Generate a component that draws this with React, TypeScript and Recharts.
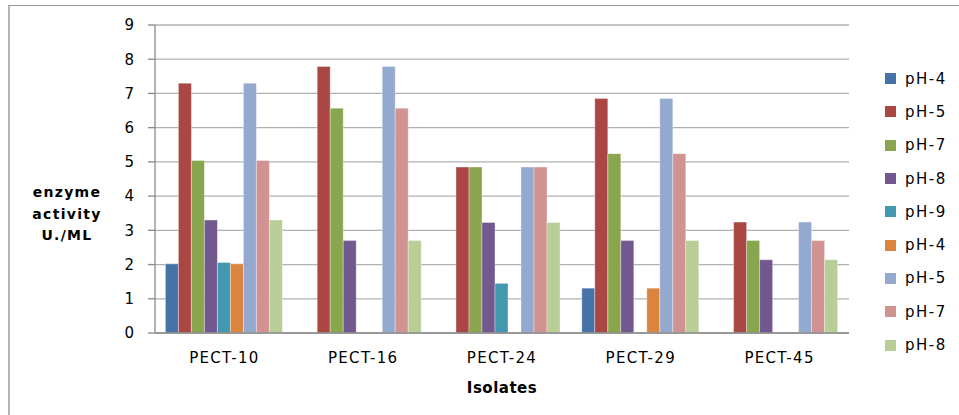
import React from 'react';
import { BarChart, Bar, XAxis, YAxis, CartesianGrid } from 'recharts';

const categories = ['PECT-10', 'PECT-16', 'PECT-24', 'PECT-29', 'PECT-45'];
const seriesNames = ['pH-4', 'pH-5', 'pH-7', 'pH-8', 'pH-9', 'pH-4', 'pH-5', 'pH-7', 'pH-8'];
const seriesColors = ['#4572A7', '#AA4643', '#89A54E', '#71588F', '#4198AF', '#DB843D', '#93A9CF', '#D19392', '#B9CD96'];

const s1_pH4 = [2.02, null, null, 1.31, null];
const s2_pH5 = [7.3, 7.79, 4.85, 6.85, 3.24];
const s3_pH7 = [5.04, 6.57, 4.85, 5.24, 2.7];
const s4_pH8 = [3.3, 2.7, 3.23, 2.7, 2.14];
const s5_pH9 = [2.06, null, 1.45, null, null];
const s6_pH4 = [2.02, null, null, 1.31, null];
const s7_pH5 = [7.3, 7.79, 4.85, 6.85, 3.24];
const s8_pH7 = [5.04, 6.57, 4.85, 5.24, 2.7];
const s9_pH8 = [3.3, 2.7, 3.23, 2.7, 2.14];

const seriesValues = [s1_pH4, s2_pH5, s3_pH7, s4_pH8, s5_pH9, s6_pH4, s7_pH5, s8_pH7, s9_pH8];
const yTicks = [0, 1, 2, 3, 4, 5, 6, 7, 8, 9];
const boundaryTicks = [0, 1, 2, 3, 4, 5];

const data = categories.map((c, i) => {
  const row: Record<string, any> = { name: c, idx: i + 0.5 };
  seriesValues.forEach((s, k) => {
    row['s' + k] = s[i];
  });
  return row;
});

const FONT = 'DejaVu Sans, Verdana, sans-serif';

const YLabel = () => (
  <text textAnchor="middle" fontFamily={FONT} fontWeight="bold" fontSize={14} fill="#000" letterSpacing={1.3}>
    <tspan x={67} y={197}>enzyme</tspan>
    <tspan x={67} y={219}>activity</tspan>
    <tspan x={67} y={240}>U./ML</tspan>
  </text>
);

const XLabel = () => (
  <text x={502} y={393} textAnchor="middle" fontFamily={FONT} fontWeight="bold" fontSize={15} fill="#000" letterSpacing={0.5}>
    Isolates
  </text>
);

export default function App() {
  return (
    <div style={{ position: 'absolute', left: 0, top: 0, width: 959, height: 415, background: '#fff' }}>
      <div style={{ position: 'absolute', left: 8, top: 5, width: 951, height: 410, borderTop: '1.5px solid #999', borderLeft: '2px solid #b5b5b5' }} />
      <BarChart
        width={959}
        height={415}
        data={data}
        margin={{ top: 25, right: 110, left: 0, bottom: 0 }}
        barCategoryGap="7.5%"
        barGap={0}
        style={{ position: 'absolute', left: 0, top: 0 }}
      >
        <CartesianGrid vertical={false} stroke="#b0b0b0" strokeWidth={1.3} />
        <XAxis
          xAxisId="b"
          type="number"
          dataKey="idx"
          domain={[0, 5]}
          ticks={boundaryTicks}
          allowDataOverflow
          height={0}
          axisLine={false}
          tick={false}
          tickSize={7}
          tickLine={{ stroke: '#7a7a7a', strokeWidth: 1.5 }}
        />
        <XAxis
          dataKey="name"
          height={82}
          axisLine={{ stroke: '#8a8a8a', strokeWidth: 1.3 }}
          tickLine={false}
          tickSize={0}
          tickMargin={19}
          tick={{ fontFamily: FONT, fontSize: 15, fill: '#000', letterSpacing: 1.3 }}
          interval={0}
          label={<XLabel />}
        />
        <YAxis
          width={155}
          domain={[0, 9]}
          ticks={yTicks}
          interval={0}
          axisLine={{ stroke: '#8a8a8a', strokeWidth: 1.3 }}
          tickLine={{ stroke: '#8a8a8a', strokeWidth: 1.3 }}
          tickSize={7}
          tickMargin={14}
          tick={{ fontFamily: FONT, fontSize: 15, fill: '#000' }}
          label={<YLabel />}
        />
        {seriesNames.map((n, k) => (
          <Bar
            key={k}
            dataKey={'s' + k}
            name={n}
            fill={seriesColors[k]}
            stroke="#ffffff"
            strokeOpacity={0.35}
            strokeWidth={1}
            isAnimationActive={false}
          />
        ))}
      </BarChart>
      <div style={{ position: 'absolute', left: 885, top: 62, fontFamily: FONT, fontSize: 15, letterSpacing: 1.5 }}>
        {seriesNames.map((n, i) => (
          <div key={i} style={{ height: 33.3, display: 'flex', alignItems: 'center' }}>
            <span style={{ display: 'inline-block', width: 11, height: 11, background: seriesColors[i], marginRight: 9 }} />
            <span style={{ color: '#000' }}>{n}</span>
          </div>
        ))}
      </div>
    </div>
  );
}
